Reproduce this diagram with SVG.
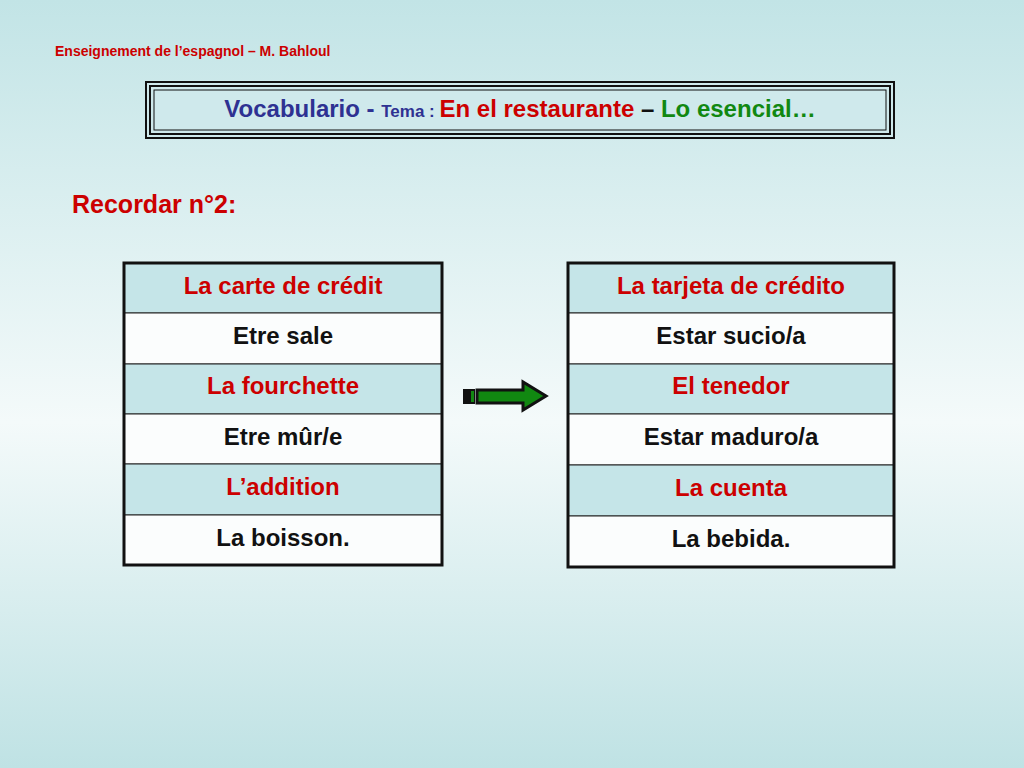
<svg xmlns="http://www.w3.org/2000/svg" width="1024" height="768" viewBox="0 0 1024 768">
<defs>
<linearGradient id="bg" x1="0" y1="0" x2="0" y2="1">
<stop offset="0" stop-color="#c2e4e6"/><stop offset="0.55" stop-color="#f4fafa"/><stop offset="1" stop-color="#bfe2e4"/>
</linearGradient>
<style>
.t{font-family:"Liberation Sans",Arial,sans-serif;font-weight:bold;font-size:24px;text-anchor:middle}
.r{fill:#cc0000}.k{fill:#111}
.sh{fill:#c5e5e8;stroke:#222;stroke-width:1}
.wh{fill:#fbfdfd;stroke:#222;stroke-width:1}
</style>
</defs>
<rect width="1024" height="768" fill="url(#bg)"/>
<text x="55" y="56" font-family="Liberation Sans,Arial,sans-serif" font-weight="bold" font-size="14" fill="#cc0000">Enseignement de l’espagnol – M. Bahloul</text>
<g id="title">
<rect x="146" y="82" width="748" height="56" fill="#cfe9ec" stroke="#111" stroke-width="2"/>
<rect x="150" y="86" width="740" height="48" fill="none" stroke="#111" stroke-width="2"/>
<rect x="154" y="90" width="732" height="40" fill="none" stroke="#111" stroke-width="1"/>
<text x="520" y="117" text-anchor="middle" font-family="Liberation Sans,Arial,sans-serif" font-weight="bold" font-size="24"><tspan fill="#2e3192">Vocabulario - </tspan><tspan fill="#2e3192" font-size="17">Tema : </tspan><tspan fill="#cc0000">En el restaurante</tspan><tspan fill="#111"> – </tspan><tspan fill="#118811">Lo esencial…</tspan></text>
</g>
<text x="72" y="213" font-family="Liberation Sans,Arial,sans-serif" font-weight="bold" font-size="25" fill="#cc0000">Recordar n°2:</text>
<g id="left">
<rect class="sh" x="124" y="263" width="318" height="50"/>
<rect class="wh" x="124" y="313" width="318" height="51"/>
<rect class="sh" x="124" y="364" width="318" height="50"/>
<rect class="wh" x="124" y="414" width="318" height="50"/>
<rect class="sh" x="124" y="464" width="318" height="51"/>
<rect class="wh" x="124" y="515" width="318" height="50"/>
<rect x="124" y="263" width="318" height="302" fill="none" stroke="#111" stroke-width="3"/>
<text class="t r" x="283" y="294">La carte de crédit</text>
<text class="t k" x="283" y="344">Etre sale</text>
<text class="t r" x="283" y="394">La fourchette</text>
<text class="t k" x="283" y="445">Etre mûr/e</text>
<text class="t r" x="283" y="495">L’addition</text>
<text class="t k" x="283" y="546">La boisson.</text>
</g>
<g id="right">
<rect class="sh" x="568" y="263" width="326" height="50"/>
<rect class="wh" x="568" y="313" width="326" height="51"/>
<rect class="sh" x="568" y="364" width="326" height="50"/>
<rect class="wh" x="568" y="414" width="326" height="51"/>
<rect class="sh" x="568" y="465" width="326" height="51"/>
<rect class="wh" x="568" y="516" width="326" height="51"/>
<rect x="568" y="263" width="326" height="304" fill="none" stroke="#111" stroke-width="3"/>
<text class="t r" x="731" y="294">La tarjeta de crédito</text>
<text class="t k" x="731" y="344">Estar sucio/a</text>
<text class="t r" x="731" y="394">El tenedor</text>
<text class="t k" x="731" y="445">Estar maduro/a</text>
<text class="t r" x="731" y="496">La cuenta</text>
<text class="t k" x="731" y="547">La bebida.</text>
</g>
<g id="connectors">
<rect x="463" y="389" width="12" height="15" fill="#111"/>
<rect x="471" y="391" width="3" height="11" fill="#118811"/>
<polygon points="477,390 523,390 523,382 546,396 523,410 523,403 477,403" fill="#118811" stroke="#111" stroke-width="3" stroke-linejoin="miter"/>
</g>
</svg>
